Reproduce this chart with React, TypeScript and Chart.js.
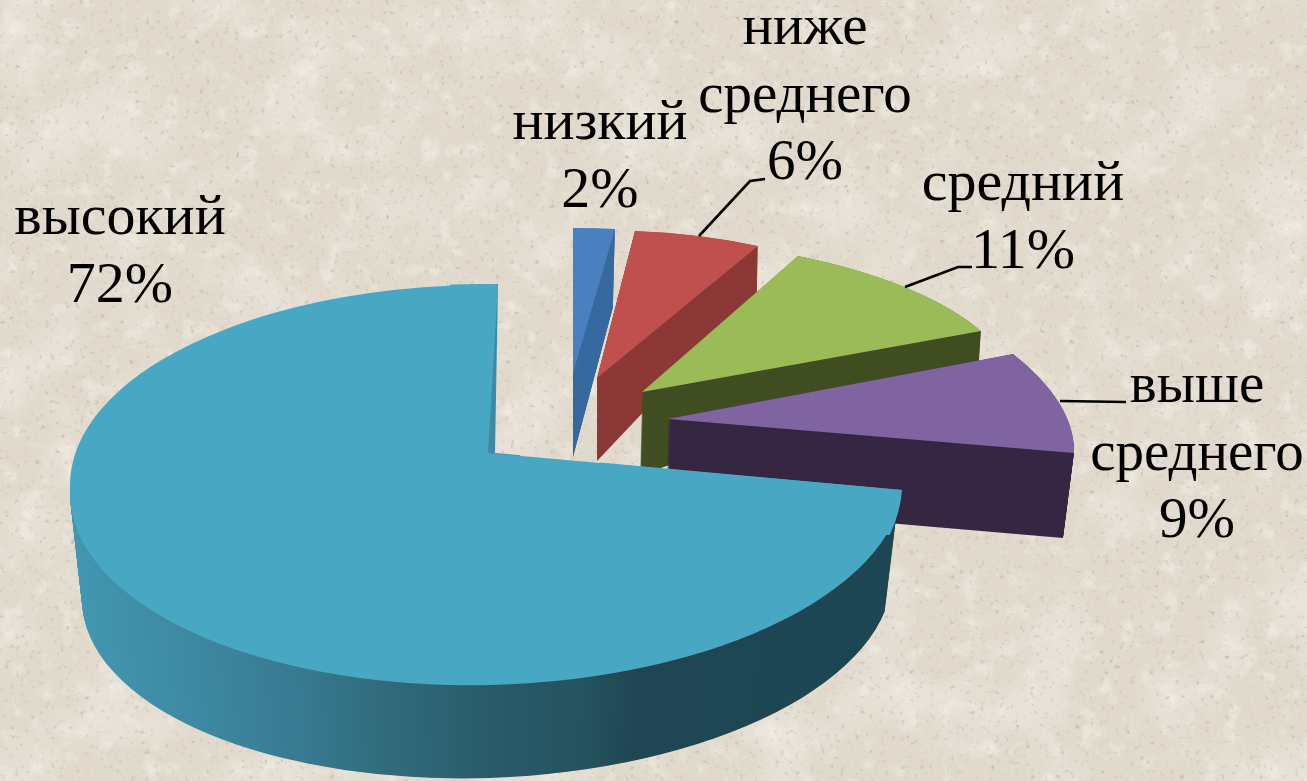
import React, { useEffect, useRef } from "react";
import { Chart, registerables } from "chart.js";

Chart.register(...registerables);

// ---------- data ----------
const categories = ["низкий", "ниже среднего", "средний", "выше среднего", "высокий"];
const shares = [2, 6, 11, 9, 72];
const faceColors = ["#4a80c0", "#c0504d", "#9bbb59", "#8064a2", "#48a8c4"];
const wallColors = ["#386a9f", "#8b3836", "#414f23", "#372743", ""];
const tealStrip = "#3c8ba6";

const labelLines = [
  ["высокий", "72%"],
  ["низкий", "2%"],
  ["ниже", "среднего", "6%"],
  ["средний", "11%"],
  ["выше", "среднего", "9%"],
];

// ---------- layout (per-slice projection: origin + two axis vectors) ----------
type View = { o: number[]; a: number[]; b: number[] };
const wallTops: View[] = [
  { o: [573, 373], a: [335, -1], b: [0, 145] },
  { o: [597, 378], a: [343.3, -5.85], b: [5.06, 147.4] },
  { o: [642, 392], a: [376, -5.3], b: [28.7, 152.3] },
  { o: [668, 419], a: [399.6, 0.6], b: [72, 178.2] },
  { o: [487, 485], a: [417, -8], b: [0, 200] },
];
const wallBottoms: View[] = [
  { o: [573, 457], a: [319, -48.7], b: [0, 145] },
  { o: [597, 461], a: [340.6, -10.3], b: [4.7, 187.2] },
  { o: [640, 475], a: [374.8, -46.4], b: [25.7, 192.5] },
  { o: [666, 504], a: [394.1, -18.3], b: [52.7, 277] },
  { o: [487, 587], a: [405, -12], b: [0, 191] },
];
// extra passes that give the large slice its perspective, each inside a clip [x, y, w, h]
const largeSlicePasses: { view: View; strip: boolean; clip: number[] }[] = [
  { view: { o: [487, 485], a: [417, 0], b: [0, 200] }, strip: false, clip: [0, 0, 450, 488] },
  { view: { o: [495, 453], a: [414.9, 5.4], b: [-3, 169] }, strip: true, clip: [470, 270, 50, 190] },
  { view: { o: [488, 453], a: [423.4, 5.4], b: [-10, 169] }, strip: false, clip: [450, 270, 470, 300] },
  { view: { o: [495, 453], a: [402.7, -4.3], b: [61, 220] }, strip: false, clip: [600, 440, 320, 95] },
];
const largeWallStops: [number, string][] = [
  [0, "#4397b1"],
  [0.15, "#3d88a1"],
  [0.272, "#377a91"],
  [0.394, "#306978"],
  [0.516, "#285a69"],
  [0.613, "#25535f"],
  [0.687, "#1f4652"],
  [1, "#1e4552"],
];
const labelAnchors = [
  { x: 120, y: 234, size: 58 },
  { x: 600, y: 139, size: 58 },
  { x: 805, y: 44, size: 57 },
  { x: 1023, y: 200, size: 58 },
  { x: 1197, y: 402, size: 57 },
];
const labelLineHeight = 67.5;
const leaders = [
  [[699, 236], [750, 181], [765, 179]],
  [[905, 287], [958, 267], [972, 267]],
  [[1060, 401], [1126, 402]],
];
const WALL_LAYERS = 130;

const lerp = (p: number[], q: number[], t: number) => [p[0] + (q[0] - p[0]) * t, p[1] + (q[1] - p[1]) * t];

function paintArc(ctx: CanvasRenderingContext2D, arc: any, view: View, fill: any) {
  const R = arc.outerRadius;
  const saved = arc.options;
  ctx.save();
  ctx.transform(view.a[0] / R, view.a[1] / R, view.b[0] / R, view.b[1] / R, view.o[0], view.o[1]);
  ctx.translate(-arc.x, -arc.y);
  arc.options = { ...saved, backgroundColor: fill, borderWidth: 0 };
  arc.draw(ctx);
  arc.options = saved;
  ctx.restore();
}

const pie3d = {
  id: "pie3d",
  beforeDatasetsDraw(chart: any) {
    const ctx: CanvasRenderingContext2D = chart.ctx;
    const arcs = chart.getDatasetMeta(0).data;
    arcs.forEach((arc: any, i: number) => {
      let wall: any = wallColors[i];
      if (!wall) {
        const g = ctx.createLinearGradient(arc.x - arc.outerRadius, 0, arc.x + arc.outerRadius, 0);
        largeWallStops.forEach(([s, c]) => g.addColorStop(s, c));
        wall = g;
      }
      for (let k = WALL_LAYERS; k >= 1; k--) {
        const t = k / WALL_LAYERS;
        paintArc(
          ctx,
          arc,
          {
            o: lerp(wallTops[i].o, wallBottoms[i].o, t),
            a: lerp(wallTops[i].a, wallBottoms[i].a, t),
            b: lerp(wallTops[i].b, wallBottoms[i].b, t),
          },
          wall
        );
      }
      paintArc(ctx, arc, wallTops[i], faceColors[i]);
      if (i === arcs.length - 1) {
        largeSlicePasses.forEach((p) => {
          ctx.save();
          ctx.beginPath();
          ctx.rect(p.clip[0], p.clip[1], p.clip[2], p.clip[3]);
          ctx.clip();
          paintArc(ctx, arc, p.view, p.strip ? tealStrip : faceColors[i]);
          ctx.restore();
        });
      }
    });

    ctx.save();
    ctx.strokeStyle = "#000";
    ctx.lineWidth = 2.6;
    leaders.forEach((pts) => {
      ctx.beginPath();
      pts.forEach(([x, y], j) => (j ? ctx.lineTo(x, y) : ctx.moveTo(x, y)));
      ctx.stroke();
    });
    ctx.fillStyle = "#000";
    ctx.textAlign = "center";
    ctx.textBaseline = "alphabetic";
    labelLines.forEach((lines, i) => {
      ctx.font = `${labelAnchors[i].size}px "Liberation Serif"`;
      lines.forEach((s, j) => ctx.fillText(s, labelAnchors[i].x, labelAnchors[i].y + j * labelLineHeight));
    });
    ctx.restore();
    return false;
  },
};

const texture = (freq: number, octaves: number, rgb: string, gain: number, bias: number, seed: number) =>
  `url("data:image/svg+xml,${encodeURIComponent(
    `<svg xmlns='http://www.w3.org/2000/svg' width='1307' height='781'><filter id='f' x='0' y='0' width='100%' height='100%'><feTurbulence type='fractalNoise' baseFrequency='${freq}' numOctaves='${octaves}' seed='${seed}'/><feColorMatrix values='0 0 0 0 ${rgb.split(" ")[0]} 0 0 0 0 ${rgb.split(" ")[1]} 0 0 0 0 ${rgb.split(" ")[2]} ${gain} 0 0 0 ${bias}'/></filter><rect width='1307' height='781' filter='url(#f)'/></svg>`
  )}")`;

const paper = [
  texture(0.2, 3, ".45 .41 .35", 2.2, -1.38, 7),
  texture(0.05, 4, ".96 .94 .91", 1.4, -0.78, 3),
  texture(0.012, 3, ".97 .95 .93", 0.9, -0.42, 11),
].join(",");

export default function App() {
  const ref = useRef<HTMLCanvasElement | null>(null);
  useEffect(() => {
    document.body.style.margin = "0";
    const chart = new Chart(ref.current!, {
      type: "pie",
      data: {
        labels: categories,
        datasets: [{ data: shares, backgroundColor: faceColors, borderWidth: 0 }],
      },
      options: {
        animation: false,
        responsive: false,
        events: [],
        layout: { padding: 0 },
        plugins: { legend: { display: false }, tooltip: { enabled: false } },
      },
      plugins: [pie3d as any],
    });
    return () => chart.destroy();
  }, []);
  return (
    <div
      style={{
        position: "relative",
        width: 1307,
        height: 781,
        overflow: "hidden",
        backgroundColor: "#e1d9cc",
        backgroundImage: paper,
      }}
    >
      <canvas
        ref={ref}
        width={1307}
        height={781}
        style={{ position: "absolute", left: 0, top: 0, width: 1307, height: 781, filter: "blur(0.6px)" }}
      />
    </div>
  );
}
